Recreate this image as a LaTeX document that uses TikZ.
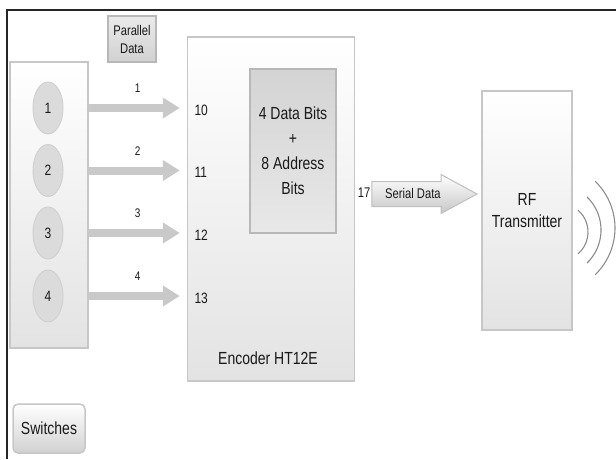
\documentclass[tikz,border=0pt]{standalone}
\usepackage{fontspec}
\setmainfont{Liberation Sans}[FakeStretch=0.8]
\usetikzlibrary{positioning,arrows.meta,shapes.geometric,shapes.arrows}

\begin{document}
\begin{tikzpicture}[x=1pt,y=-1pt,>=Latex,
  font=\fontsize{14}{18}\selectfont,text=black!90,
  panel/.style={draw=black!22,line width=1.5pt,top color=white,bottom color=black!11,inner sep=0pt},
  tag/.style={draw=black!28,line width=1.2pt,top color=black!8,bottom color=black!18,inner sep=0pt,align=center},
  key/.style={ellipse,draw=black!18,line width=1pt,fill=black!14,minimum width=30pt,minimum height=52pt,inner sep=0pt},
  bus/.style={line width=8pt,draw=black!21,-{Triangle[length=17pt,width=20pt]},shorten >=7pt},
  big/.style={font=\fontsize{17.5}{25}\selectfont},
  pin/.style={font=\fontsize{15}{18}\selectfont,anchor=west}]
  \useasboundingbox (0,0) rectangle (616,459);
  % page frame
  \draw[line width=2pt,black!85] (7,459) |- (616,9.5);

  % switch panel
  \node[panel,minimum width=78pt,minimum height=286pt] (sw) at (49,205) {};
  \node[tag,minimum width=48pt,minimum height=46pt] (par) at (132,39) {Parallel\\Data};
  \node[panel,rounded corners=5pt,minimum width=72pt,minimum height=49pt,
        big,bottom color=black!18] (swl) at (49,428.5) {Switches};

  % encoder
  \node[panel,minimum width=167pt,minimum height=344pt] (enc) at (271,209) {};
  \node[tag,minimum width=86pt,minimum height=164pt,big,top color=black!17,bottom color=black!9]
    (bits) at (293,151) {4 Data Bits\\+\\8 Address\\Bits};
  \node[big] (encl) at (268,358) {Encoder HT12E};

  % switches to encoder inputs
  \foreach \i/\y/\p in {1/108/10,2/170.5/11,3/233/12,4/296/13} {
    \node[key,font=\fontsize{15}{18}\selectfont] (k\i) at (48,\y) {\i};
    \coordinate (s\i) at (sw.east |- k\i);
    \draw[bus] (s\i) -- (enc.west |- s\i)
      node[midway,above=8pt,font=\fontsize{12.5}{15}\selectfont,text=black!90] {\i};
    \node[pin] (p\p) at (191,\y+2) {\p};
  }

  % serial output
  \node[font=\fontsize{14}{16}\selectfont] (p17) at (364,193) {17};
  \node[single arrow,draw=black!25,line width=1pt,top color=white,bottom color=black!22,
        minimum height=105pt,minimum width=38pt,single arrow head extend=7pt,
        single arrow tip angle=57,text height=8pt,text depth=0pt,inner ysep=8pt,
        font=\fontsize{14}{16}\selectfont,anchor=tip] (ser) at (478,194) {Serial Data};

  % transmitter
  \node[panel,minimum width=90pt,minimum height=239pt,big,align=center,
        font=\fontsize{17.5}{22}\selectfont] (rf) at (527,210.5) {RF\\Transmitter};
  \draw[black!45,line width=1.1pt] (559,232) ++(-49:29) arc[start angle=-49,end angle=49,radius=29];
  \draw[black!45,line width=1.1pt] (555,230) ++(-46:46) arc[start angle=-46,end angle=46,radius=46];
  \draw[black!45,line width=1.1pt] (550,228) ++(-46:65) arc[start angle=-46,end angle=46,radius=65];
\end{tikzpicture}
\end{document}
